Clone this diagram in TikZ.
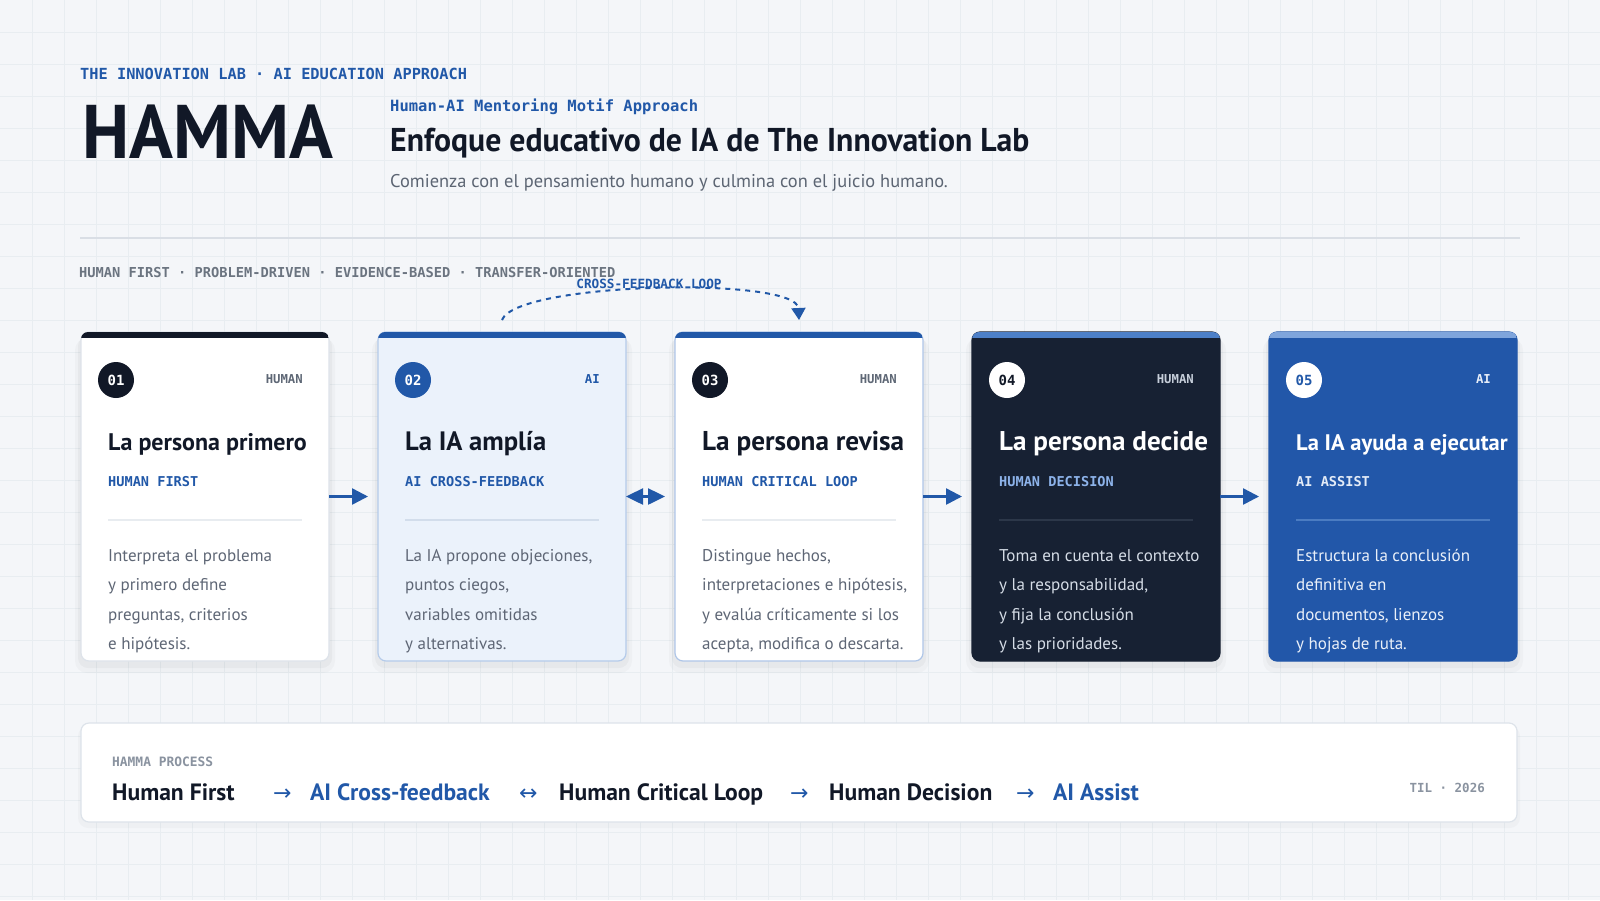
\documentclass[tikz,border=0pt]{standalone}
\usepackage{fontspec}
\setmainfont{PT Sans}
\newfontfamily\mono{DejaVu Sans Mono}
\newfontfamily\symf{DejaVu Sans}
\usetikzlibrary{arrows.meta}
\newcommand\fs[1]{\fontsize{#1}{#1}\selectfont}
\definecolor{bgc}{HTML}{F4F6F9}
\definecolor{gridc}{HTML}{E8EDF1}
\definecolor{ink}{HTML}{111827}
\definecolor{blue1}{HTML}{2158A8}
\definecolor{gray1}{HTML}{5C6573}
\definecolor{gray2}{HTML}{6B7480}
\definecolor{gray3}{HTML}{8A93A0}
\definecolor{rulec}{HTML}{D9DEE5}
\definecolor{bord1}{HTML}{DEE3EA}
\definecolor{tagg}{HTML}{5F6876}
\definecolor{sep1}{HTML}{E8ECF0}
\definecolor{body1}{HTML}{5E6675}
\definecolor{fill2}{HTML}{EBF2FB}
\definecolor{bord2}{HTML}{B5CBEA}
\definecolor{sep2}{HTML}{D2DDEB}
\definecolor{bord3}{HTML}{AFC6E8}
\definecolor{fill4}{HTML}{172133}
\definecolor{bar4}{HTML}{4D80C8}
\definecolor{tag4}{HTML}{C6CEDA}
\definecolor{sub4}{HTML}{8DB3EA}
\definecolor{sep4}{HTML}{2C3749}
\definecolor{body4}{HTML}{D5DCE6}
\definecolor{fill5}{HTML}{2257A9}
\definecolor{bar5}{HTML}{7FA5DC}
\definecolor{tag5}{HTML}{E8EEF8}
\definecolor{sub5}{HTML}{E3EBF7}
\definecolor{sep5}{HTML}{4B7CC2}
\definecolor{body5}{HTML}{EAF0F9}
\definecolor{procb}{HTML}{DDE3EA}
\tikzset{
  cardnode/.style={rectangle, minimum width=248pt, minimum height=329pt, inner sep=0pt, outer sep=0pt, rounded corners=8pt, line width=1.2pt},
  numcirc/.style={circle, minimum size=36pt, inner sep=0pt, font=\mono\bfseries\fs{14}},
  tagtext/.style={inner sep=0pt, font=\mono\bfseries\fs{12.3}},
  titletext/.style={inner sep=0pt},
  subtext/.style={inner sep=0pt, font=\mono\bfseries\fs{13.6}},
  bodytext/.style={inner sep=0pt, font=\fs{17}},
  txt/.style={inner sep=0pt, anchor=base west},
  conn/.style={draw=blue1, line width=2.5pt, -{Triangle[length=16pt,width=16pt]}, shorten >=10pt},
  conn2/.style={draw=blue1, line width=2.5pt, {Triangle[length=17pt,width=16pt]}-{Triangle[length=17pt,width=16pt]}, shorten >=10pt},
  loopc/.style={draw=blue1, line width=2pt, dash pattern=on 5pt off 5pt, -{Triangle[length=12pt,width=14pt]}},
  procitem/.style={inner sep=0pt, anchor=base west, font=\bfseries\fs{23.6}},
  procarrow/.style={inner sep=0pt, anchor=base west, font=\symf\fs{22}, text=blue1},
}
% colour theme of a card
\newcommand\cardtheme[9]{%
  \colorlet{cfill}{#1}\colorlet{cborder}{#2}\colorlet{cbar}{#3}%
  \colorlet{ccircle}{#4}\colorlet{cnum}{#5}\colorlet{ctag}{#6}%
  \colorlet{ctitle}{#7}\colorlet{csub}{#8}\colorlet{csep}{#9}}
% card shape and header: id, x0, number, tag, title, title size
\newcommand\mkcard[6]{%
  \fill[black, opacity=0.025, rounded corners=12pt] (#2-6,338) rectangle (#2+254,673);
  \fill[black, opacity=0.03, rounded corners=10pt] (#2-3,336) rectangle (#2+251,668);
  \node[cardnode, fill=cfill, draw=cborder] (#1) at (#2+124,496.5) {};
  \begin{scope}
    \clip[rounded corners=7pt] (#1.north west) rectangle (#1.south east);
    \fill[cbar] (#1.north west) rectangle ([yshift=-6pt]#1.north east);
  \end{scope}
  \node[numcirc, fill=ccircle, text=cnum] (#1n) at (#2+35,380) {#3};
  \node[tagtext, text=ctag, anchor=base east] (#1t) at (#2+222,383.5) {#4};
  \node[titletext, text=ctitle, anchor=base west, font=\bfseries\fs{#6}] (#1h) at (#2+27,450) {#5};
}
% card body: id, x0, subtitle, four lines
\newcommand\mkbody[7]{%
  \node[subtext, text=csub, anchor=base west] (#1s) at (#2+27,486) {#3};
  \draw[csep, line width=1.5pt] (#2+27,520) -- (#2+221,520);
  \node[bodytext, text=cbody, anchor=base west] (#1a) at (#2+27,561) {#4};
  \node[bodytext, text=cbody, anchor=base west] (#1b) at (#2+27,590.5) {#5};
  \node[bodytext, text=cbody, anchor=base west] (#1c) at (#2+27,620) {#6};
  \node[bodytext, text=cbody, anchor=base west] (#1d) at (#2+27,649.5) {#7};
}
\begin{document}
\begin{tikzpicture}[x=1pt,y=-1pt]
\useasboundingbox (0,0) rectangle (1600,900);
\fill[bgc] (0,0) rectangle (1600,900);
\foreach \g in {32,64,...,1568} \draw[gridc, line width=0.8pt] (\g,0) -- (\g,900);
\foreach \g in {32,64,...,896} \draw[gridc, line width=0.8pt] (0,\g) -- (1600,\g);

% header
\node[txt, font=\mono\bfseries\fs{15.3}, text=blue1] (kicker) at (80,79) {THE INNOVATION LAB · AI EDUCATION APPROACH};
\node[txt, font=\bfseries\fs{76}, text=ink] (hamma) at (82,158) {\scalebox{0.953}[1]{HAMMA}};
\node[txt, font=\mono\bfseries\fs{15.5}, text=blue1] (sub1) at (390,111.5) {Human-AI Mentoring Motif Approach};
\node[txt, font=\bfseries\fs{33}, text=ink] (headline) at (390,151) {\scalebox{0.962}[1]{Enfoque educativo de IA de The Innovation Lab}};
\node[txt, font=\fs{18.4}, text=gray1] (lead) at (390,187) {Comienza con el pensamiento humano y culmina con el juicio humano.};
\draw[rulec, line width=1.5pt] (80,238) -- (1520,238);
\node[txt, font=\mono\bfseries\fs{13.7}, text=gray2] (tagline) at (79,277) {HUMAN FIRST · PROBLEM-DRIVEN · EVIDENCE-BASED · TRANSFER-ORIENTED};

% cards
\cardtheme{white}{bord1}{ink}{ink}{white}{tagg}{ink}{blue1}{sep1}\colorlet{cbody}{body1}
\mkcard{c1}{81}{01}{HUMAN}{La persona primero}{24}
\mkbody{c1}{81}{HUMAN FIRST}{Interpreta el problema}{y primero define}{preguntas, criterios}{e hipótesis.}

\cardtheme{fill2}{bord2}{blue1}{blue1}{white}{blue1}{ink}{blue1}{sep2}\colorlet{cbody}{body1}
\mkcard{c2}{378}{02}{AI}{La IA amplía}{26.6}
\mkbody{c2}{378}{AI CROSS-FEEDBACK}{La IA propone objeciones,}{puntos ciegos,}{variables omitidas}{y alternativas.}

\cardtheme{white}{bord3}{blue1}{ink}{white}{tagg}{ink}{blue1}{sep1}\colorlet{cbody}{body1}
\mkcard{c3}{675}{03}{HUMAN}{La persona revisa}{27.2}
\mkbody{c3}{675}{HUMAN CRITICAL LOOP}{Distingue hechos,}{interpretaciones e hipótesis,}{y evalúa críticamente si los}{acepta, modifica o descarta.}

\cardtheme{fill4}{fill4}{bar4}{white}{ink}{tag4}{white}{sub4}{sep4}\colorlet{cbody}{body4}
\mkcard{c4}{972}{04}{HUMAN}{La persona decide}{27.1}
\mkbody{c4}{972}{HUMAN DECISION}{Toma en cuenta el contexto}{y la responsabilidad,}{y fija la conclusión}{y las prioridades.}

\cardtheme{fill5}{fill5}{bar5}{white}{blue1}{tag5}{white}{sub5}{sep5}\colorlet{cbody}{body5}
\mkcard{c5}{1269}{05}{AI}{La IA ayuda a ejecutar}{22.5}
\mkbody{c5}{1269}{AI ASSIST}{Estructura la conclusión}{definitiva en}{documentos, lienzos}{y hojas de ruta.}

% connectors
\draw[conn] (c1) -- (c2);
\draw[conn2] (c2) -- (c3);
\draw[conn] (c3) -- (c4);
\draw[conn] (c4) -- (c5);
\draw[loopc] ([yshift=12pt]c2.north) .. controls +(14,-38) and +(-2,-44) .. ([yshift=12pt]c3.north)
  node[pos=0.5, anchor=base, xshift=-6pt, yshift=1pt, inner sep=0pt, font=\mono\bfseries\fs{12.7}, text=blue1] (looplbl) {CROSS-FEEDBACK LOOP};

% process panel
\fill[black, opacity=0.025, rounded corners=10pt] (78,726) rectangle (1520,828);
\node[rectangle, rounded corners=8pt, minimum width=1436pt, minimum height=99pt, inner sep=0pt, fill=white, draw=procb, line width=1.2pt] (proc) at (799,772.5) {};
\node[txt, font=\mono\bfseries\fs{12.9}, text=gray3] (proclbl) at (112,766.5) {HAMMA PROCESS};
\node[procitem, text=ink] (p1) at (112,800) {Human First};
\node[procarrow] (a1) at (273,800) {→};
\node[procitem, text=blue1] (p2) at (310,800) {AI Cross-feedback};
\node[procarrow] (a2) at (519,800) {↔};
\node[procitem, text=ink] (p3) at (559,800) {Human Critical Loop};
\node[procarrow] (a3) at (790,800) {→};
\node[procitem, text=ink] (p4) at (829,800) {Human Decision};
\node[procarrow] (a4) at (1016,800) {→};
\node[procitem, text=blue1] (p5) at (1053,800) {AI Assist};
\node[inner sep=0pt, anchor=base east, font=\mono\bfseries\fs{12.5}, text=gray3] (til) at (1485,792.5) {TIL · 2026};
\end{tikzpicture}
\end{document}
